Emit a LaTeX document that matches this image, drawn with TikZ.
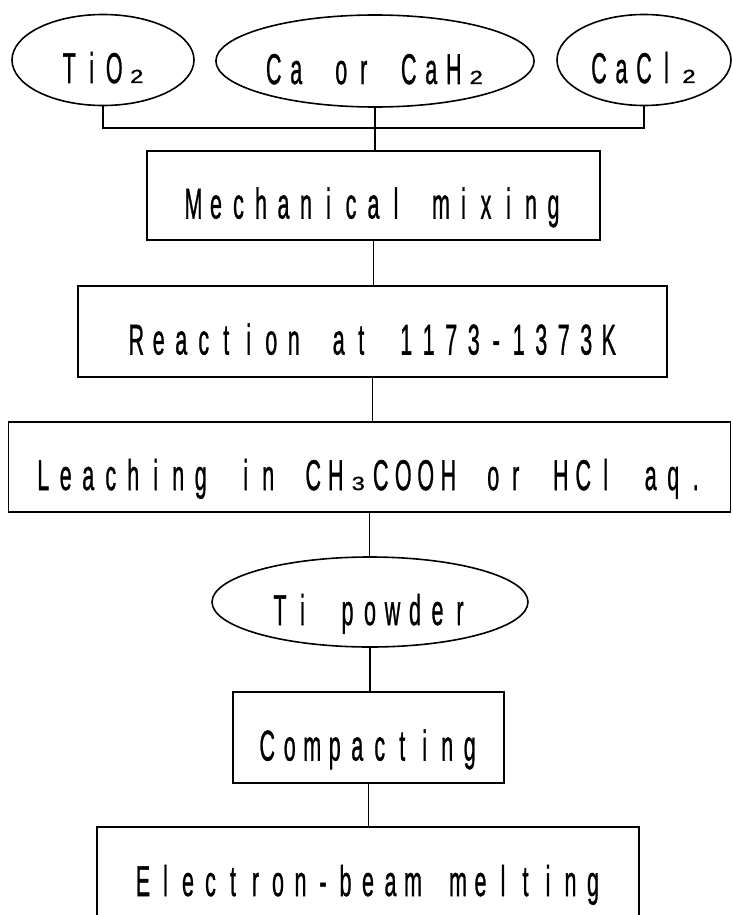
\documentclass[tikz,border=0pt]{standalone}
\usepackage{fontspec}
\setmainfont{Liberation Sans}
\newfontfamily\diagfont[FakeBold=1.2]{Liberation Sans}
\usepackage{graphicx}
\usetikzlibrary{shapes.geometric}

\newlength\cellpitch
\setlength\cellpitch{22.5pt}
\newcommand\mychar[1]{\makebox[\cellpitch][c]{\scalebox{0.5}[1]{#1}}}
\def\monoloop#1{\ifx\relax#1\else\mychar{#1}\expandafter\monoloop\fi}
\newcommand\mono[1]{\monoloop#1\relax}
\newcommand\subdigit[1]{\scalebox{2.5}[1]{\fontsize{19}{19}\selectfont #1}}
\newcommand\subtwo{\subdigit{2}}
\newcommand\subthree{\subdigit{3}}
\newcommand\bigfont{\diagfont\fontsize{43}{43}\selectfont}

\tikzset{
  shapebase/.style={draw, line width=1.6pt, inner sep=0pt, font=\bigfont,
    text height=46pt, text depth=0pt},
  stepbox/.style={shapebase, rectangle},
  matbox/.style={shapebase, ellipse},
  link/.style={line width=1.8pt}
}

\begin{document}
\begin{tikzpicture}[x=1pt,y=-1pt]
\useasboundingbox (0,0) rectangle (732,915);

\node[matbox, minimum width=182pt, minimum height=91pt] (tio) at (103,60) {\mono{TiO\subtwo}};
\node[matbox, minimum width=316pt, minimum height=92pt] (ca) at (375,61) {\mono{Ca~or~CaH\subtwo}};
\node[matbox, minimum width=174pt, minimum height=91pt] (cacl) at (644,60) {\mono{CaCl\subtwo}};

\coordinate (bus) at (376,128);

\node[stepbox, minimum width=453pt, minimum height=89pt] (mech) at (373.5,195.5) {\mono{Mechanical~mixing}};
\node[stepbox, minimum width=589pt, minimum height=91pt] (react) at (372.5,331.5) {\mono{Reaction~at~1173-1373K}};
\node[stepbox, minimum width=722pt, minimum height=90pt] (leach) at (369.5,467) {\mono{Leaching~in~CH\subthree COOH~or~HCl~aq.}};
\node[matbox, minimum width=316pt, minimum height=90pt] (tipow) at (370,602) {\mono{Ti~powder}};
\node[stepbox, minimum width=271pt, minimum height=91pt] (comp) at (368.5,737.5) {\mono{Compacting}};
\node[stepbox, minimum width=542pt, minimum height=92pt] (ebm) at (368,873) {\mono{Electron-beam~melting}};

\draw[link] (tio.south) -- (tio.south |- bus) -- (cacl.south |- bus) -- (cacl.south);
\draw[link] (ca.south) -- (ca.south |- mech.north);
\draw[link] (mech.south) -- (mech.south |- react.north);
\draw[link] (react.south) -- (react.south |- leach.north);
\draw[link] (leach.south) -- (leach.south |- tipow.north);
\draw[link] (tipow.south) -- (tipow.south |- comp.north);
\draw[link] (comp.south) -- (comp.south |- ebm.north);
\end{tikzpicture}
\end{document}
